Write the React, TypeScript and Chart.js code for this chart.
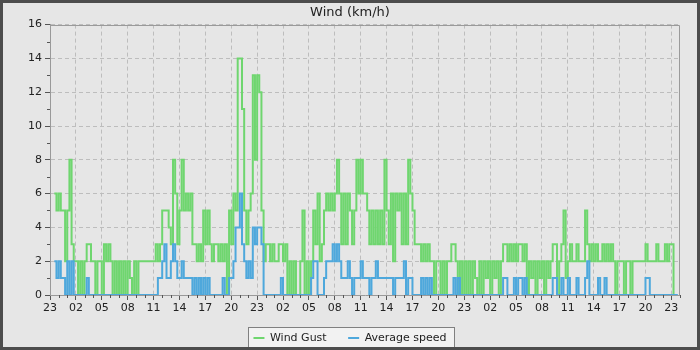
import React, { useEffect, useRef } from 'react';
import { Chart, registerables } from 'chart.js';

Chart.register(...registerables);

const FONT = "'DejaVu Sans', 'Liberation Sans', sans-serif";
const STEP_HOURS = 0.25; // 15-minute samples, hours counted from 23:00
const X_MAX_HOURS = 73;

const xTickHours = [0, 3, 6, 9, 12, 15, 18, 21, 24, 27, 30, 33, 36, 39, 42, 45, 48, 51, 54, 57, 60, 63, 66, 69, 72];
const xTickLabels = ['23', '02', '05', '08', '11', '14', '17', '20', '23', '02', '05', '08', '11', '14', '17', '20', '23', '02', '05', '08', '11', '14', '17', '20', '23'];
const yMin = 0;
const yMax = 16;

// Wind gust (km/h), 15-minute steps
const gustA = [null, null, 6, 5, 6, 5, 5, 2, 5, 8, 3, 2,
  2, 0, 2, 0, 2, 3, 3, 2, 2, 0,
  2, 2, 0, 3, 2, 3, 2, 0, 2, 0,
  2, 0, 2, 0, 2, 1, 0, 2, 0, 2,
  2, 2, 2, 2, 2, 2];
const gustB = [2, 3, 2, 3, 5, 5, 5, 4, 3, 8,
  6, 3, 5, 8, 5, 6, 5, 6, 3, 3,
  2, 3, 2, 5, 3, 5, 3, 2, 3, 3,
  2, 3, 2, 3, 0, 5, 3, 6, 5, 14,
  14, 11, 5, 3, 5, 6, 13, 8];
const gustC = [13, 12, 5, 2, 3, 3, 2, 3, 2, 2,
  3, 3, 2, 3, 0, 2, 0, 2, 0, 0,
  2, 5, 0, 2, 0, 2, 5, 3, 6, 2,
  3, 5, 6, 5, 6, 5, 6, 8, 6, 3,
  6, 3, 6, 5, 3, 5, 8, 6];
const gustD = [8, 6, 6, 5, 3, 5, 3, 5, 3, 5,
  3, 8, 5, 3, 6, 2, 6, 5, 6, 3,
  6, 3, 8, 6, 5, 3, 3, 3, 2, 3,
  2, 3, 2, 2, 0, 2, 2, 0, 2, 0,
  2, 2, 3, 3, 2, 0, 2, 0];
const gustE = [2, 0, 2, 0, 2, 1, 0, 2, 0, 2,
  1, 2, 0, 2, 1, 2, 0, 2, 3, 3,
  2, 3, 2, 3, 2, 3, 3, 2, 3, 0,
  2, 1, 2, 0, 2, 1, 2, 0, 2, 1,
  2, 3, 3, 0, 2, 3, 5, 1];
const gustF = [2, 3, 2, 2, 3, 2, 2, 2, 5, 3,
  2, 3, 2, 3, 2, 2, 3, 2, 3, 2,
  3, 2, 0, 2, 2, 2, 0, 2, 2, 0,
  2, 2, 2, 2, 2, 2, 3, 2, 2, 2,
  2, 3, 2, 2, 2, 3, 2, 3, 3, 0];

// Average speed (km/h), 15-minute steps
const avgA = [null, null, 2, 1, 2, 1, 1, 0, 2, 0, 2, 0,
  0, 0, 0, 0, 0, 1, 0, 0, 0, 0,
  0, 0, 0, 0, 0, 0, 0, 0, 0, 0,
  0, 0, 0, 0, 0, 0, 0, 0, 0, 0,
  0, 0, 0, 0, 0, 0];
const avgB = [0, 0, 1, 1, 2, 3, 1, 1, 2, 3,
  2, 1, 1, 2, 1, 1, 1, 1, 0, 1,
  0, 1, 0, 1, 0, 1, 0, 0, 0, 0,
  0, 0, 1, 0, 0, 1, 1, 2, 4, 4,
  6, 3, 2, 1, 2, 1, 4, 3];
const avgC = [4, 4, 3, 0, 0, 0, 0, 0, 0, 0,
  0, 1, 0, 0, 0, 0, 0, 0, 0, 0,
  0, 0, 0, 0, 0, 1, 2, 2, 0, 0,
  0, 1, 2, 2, 2, 3, 2, 3, 2, 1,
  1, 1, 2, 1, 0, 1, 1, 1];
const avgD = [2, 1, 1, 1, 0, 1, 1, 2, 1, 1,
  1, 1, 1, 1, 1, 0, 1, 1, 1, 1,
  2, 0, 1, 1, 0, 0, 0, 0, 1, 0,
  1, 0, 1, 0, 0, 0, 0, 0, 0, 0,
  0, 0, 0, 1, 0, 1, 0, 0];
const avgE = [0, 0, 0, 0, 0, 0, 0, 0, 0, 0,
  0, 0, 0, 0, 0, 0, 0, 0, 1, 1,
  0, 0, 0, 1, 0, 1, 1, 0, 1, 0,
  0, 0, 0, 0, 0, 0, 0, 0, 0, 0,
  0, 1, 1, 0, 0, 1, 0, 0];
const avgF = [1, 0, 0, 0, 1, 0, 0, 0, 1, 2,
  0, 0, 0, 0, 1, 0, 0, 1, 0, 0,
  0, 0, 0, 0, 0, 0, 0, 0, 0, 0,
  0, 0, 0, 0, 0, 0, 1, 1, 0, 0,
  0, 0, 0, 0, 0, 0, 0, 0, 0, 0, 0];

const gustValues = [...gustA, ...gustB, ...gustC, ...gustD, ...gustE, ...gustF];
const avgValues = [...avgA, ...avgB, ...avgC, ...avgD, ...avgE, ...avgF];

function toPoints(values: (number | null)[]) {
  const pts: { x: number; y: number }[] = [];
  values.forEach((v, i) => {
    if (v !== null) pts.push({ x: i * STEP_HOURS, y: v });
  });
  const last = values[values.length - 1];
  if (last !== null) pts.push({ x: values.length * STEP_HOURS, y: last });
  return pts;
}

const legendFrame = {
  id: 'legendFrame',
  beforeDraw(chart: any) {
    const lg = chart.legend;
    if (!lg || !lg.legendHitBoxes || !lg.legendHitBoxes.length) return;
    const hb = lg.legendHitBoxes;
    const first = hb[0];
    const last = hb[hb.length - 1];
    const ctx = chart.ctx;
    const left = Math.round(first.left - 5) + 0.5;
    const right = Math.round(last.left + last.width + 7) + 0.5;
    const top = Math.round(first.top - 6) + 0.5;
    const bottom = chart.height + 2;
    ctx.save();
    ctx.fillStyle = '#f2f2f2';
    ctx.fillRect(left, top, right - left, bottom - top);
    ctx.strokeStyle = '#808080';
    ctx.lineWidth = 1;
    ctx.strokeRect(left, top, right - left, bottom - top);
    ctx.restore();
  },
};

const plotFrame = {
  id: 'plotFrame',
  beforeDatasetsDraw(chart: any) {
    const { ctx, chartArea, scales } = chart;
    const xs = scales.x;
    const ys = scales.y;
    ctx.save();
    ctx.strokeStyle = '#9a9a9a';
    ctx.lineWidth = 1;
    ctx.beginPath();
    const top = Math.round(chartArea.top) + 0.5;
    const right = Math.round(chartArea.right) - 0.5;
    ctx.moveTo(chartArea.left, top);
    ctx.lineTo(right, top);
    ctx.lineTo(right, chartArea.bottom);
    ctx.stroke();
    // minor ticks: every hour on x, every unit on y
    ctx.strokeStyle = '#555';
    ctx.beginPath();
    for (let h = 0; h <= X_MAX_HOURS; h++) {
      if (h % 3 === 0) continue;
      const px = Math.round(xs.getPixelForValue(h)) + 0.5;
      ctx.moveTo(px, chartArea.bottom);
      ctx.lineTo(px, chartArea.bottom + 3);
    }
    for (let v = yMin; v <= yMax; v++) {
      if (v % 2 === 0) continue;
      const py = Math.round(ys.getPixelForValue(v)) + 0.5;
      ctx.moveTo(chartArea.left - 3, py);
      ctx.lineTo(chartArea.left, py);
    }
    ctx.stroke();
    ctx.restore();
  },
};

export default function App() {
  const ref = useRef<HTMLCanvasElement>(null);

  useEffect(() => {
    if (!ref.current) return;
    const chart = new Chart(ref.current, {
      type: 'line',
      data: {
        datasets: [
          {
            label: 'Wind Gust',
            data: toPoints(gustValues),
            borderColor: '#6fd66f',
            backgroundColor: '#6fd66f',
            borderWidth: 2,
            pointRadius: 0,
            stepped: true,
            fill: false,
            order: 2,
          },
          {
            label: 'Average speed',
            data: toPoints(avgValues),
            borderColor: '#4ea8dc',
            backgroundColor: '#4ea8dc',
            borderWidth: 2,
            pointRadius: 0,
            stepped: true,
            fill: false,
            order: 1,
          },
        ],
      },
      options: {
        responsive: false,
        animation: false,
        devicePixelRatio: 1,
        events: [],
        layout: { padding: { left: 20, right: 20, top: 1, bottom: 0 } },
        plugins: {
          title: {
            display: true,
            text: 'Wind (km/h)',
            color: '#222',
            font: { family: FONT, size: 13, weight: 'normal' },
            padding: { top: 4, bottom: 4 },
          },
          legend: {
            display: true,
            position: 'bottom',
            maxHeight: 39,
            labels: {
              boxWidth: 11,
              boxHeight: 2,
              padding: 21.5,
              color: '#222',
              font: { family: FONT, size: 11 },
              generateLabels: (c: any) =>
                c.data.datasets.map((ds: any, i: number) => ({
                  text: ds.label,
                  fillStyle: ds.borderColor,
                  strokeStyle: ds.borderColor,
                  lineWidth: 0,
                  hidden: false,
                  datasetIndex: i,
                  fontColor: '#222',
                })),
            },
          },
          tooltip: { enabled: false },
        },
        scales: {
          x: {
            type: 'linear',
            min: 0,
            max: X_MAX_HOURS,
            afterBuildTicks: (s: any) => {
              s.ticks = xTickHours.map((v) => ({ value: v }));
            },
            afterFit: (s: any) => {
              s.height = 16;
            },
            ticks: {
              autoSkip: false,
              maxRotation: 0,
              padding: 2,
              color: '#222',
              font: { family: FONT, size: 11 },
              callback: (value: any) => {
                const idx = xTickHours.indexOf(Number(value));
                return idx >= 0 ? xTickLabels[idx] : '';
              },
            },
            grid: {
              color: '#bdbdbd',
              lineWidth: 1,
              tickLength: 5,
              tickColor: '#555',
            },
            border: { display: true, color: '#999', dash: [4, 3] },
          },
          y: {
            type: 'linear',
            min: yMin,
            max: yMax,
            afterFit: (s: any) => {
              s.width = 30;
            },
            ticks: {
              stepSize: 2,
              autoSkip: false,
              padding: 3,
              color: '#222',
              font: { family: FONT, size: 11 },
            },
            grid: {
              color: '#bdbdbd',
              lineWidth: 1,
              tickLength: 5,
              tickColor: '#555',
            },
            border: { display: true, color: '#999', dash: [4, 3] },
          },
        },
      },
      plugins: [legendFrame, plotFrame],
    } as any);
    return () => chart.destroy();
  }, []);

  return (
    <div style={{ position: 'fixed', left: 0, top: 0, width: 700, height: 350, background: '#e6e6e6' }}>
      <canvas ref={ref} width={700} height={350} style={{ display: 'block', width: 700, height: 350 }} />
      <div
        style={{
          position: 'absolute',
          left: 0,
          top: 0,
          width: 700,
          height: 350,
          border: '3px solid #4d4d4d',
          boxSizing: 'border-box',
          pointerEvents: 'none',
        }}
      />
    </div>
  );
}
